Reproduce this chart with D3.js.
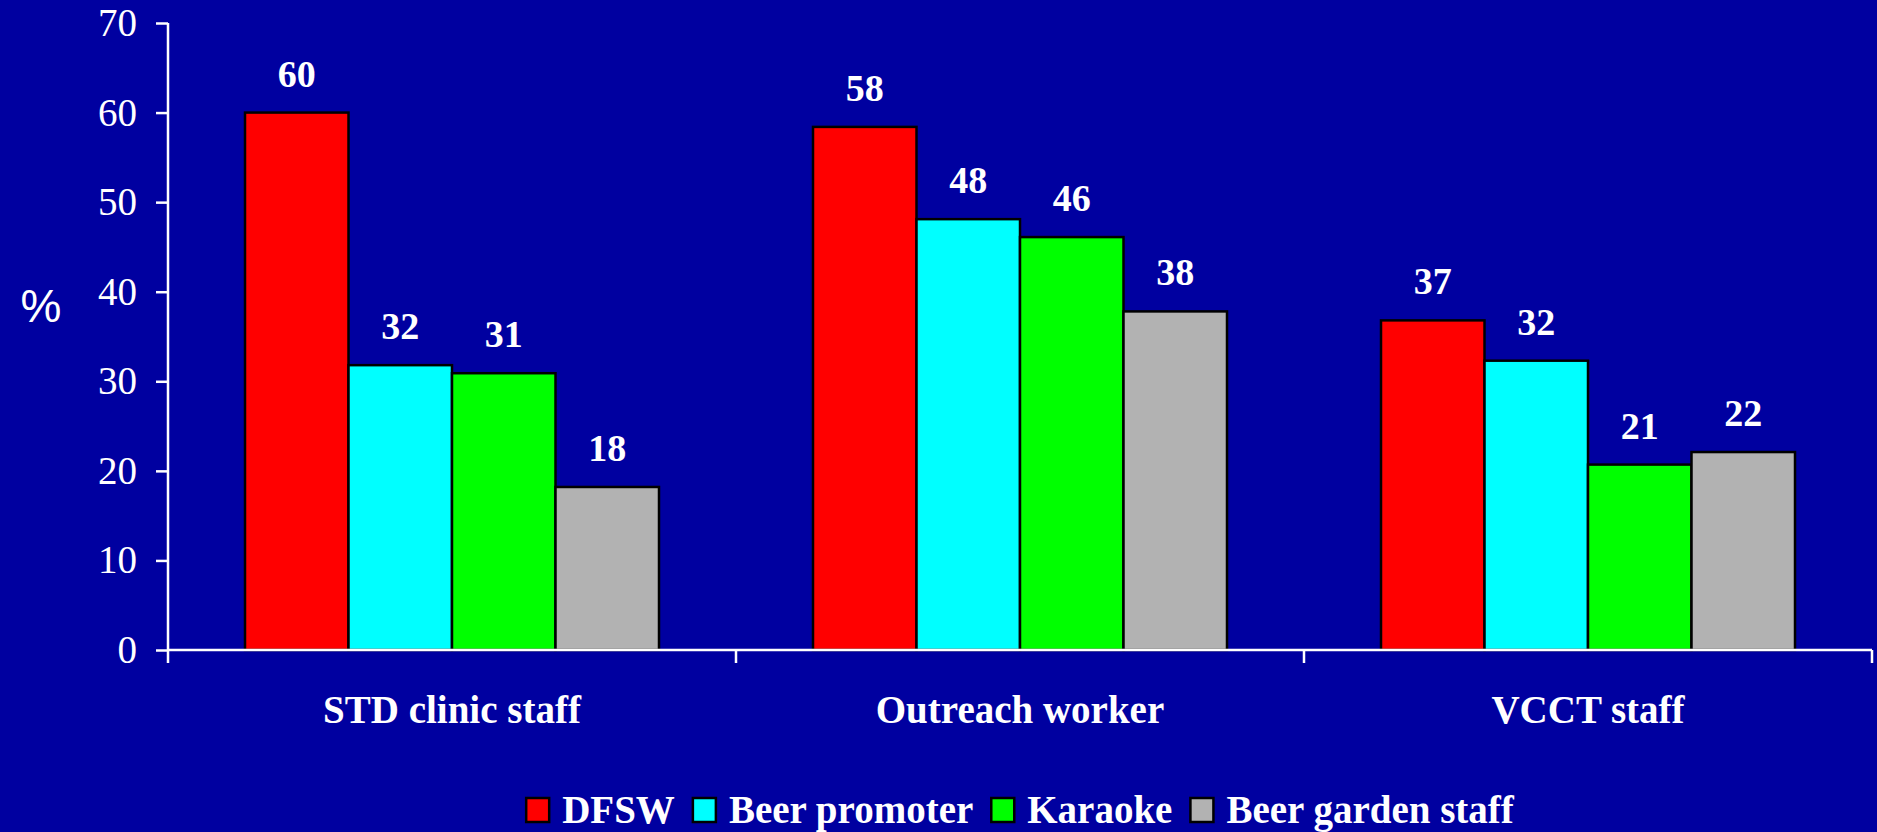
<!DOCTYPE html>
<html>
<head>
<meta charset="utf-8">
<script src="https://cdn.jsdelivr.net/npm/d3@7"></script>
<style>
  body { margin: 0; background: #0000A0; }
  svg { display: block; }
</style>
</head>
<body>
<svg id="chart" width="1877" height="832"></svg>
<script>
// data
var categories = ["STD clinic staff", "Outreach worker", "VCCT staff"];
var seriesNames = ["DFSW", "Beer promoter", "Karaoke", "Beer garden staff"];
var seriesColors = ["#FF0000", "#00FFFF", "#00FF00", "#B2B2B2"];
var dfsw = [60.0, 58.4, 36.8];
var beerPromoter = [31.8, 48.1, 32.3];
var karaoke = [30.9, 46.1, 20.7];
var beerGarden = [18.2, 37.8, 22.1];
var labelValues = [[60, 32, 31, 18], [58, 48, 46, 38], [37, 32, 21, 22]];
var yTicks = [0, 10, 20, 30, 40, 50, 60, 70];

var seriesValues = [dfsw, beerPromoter, karaoke, beerGarden];

var svg = d3.select("#chart");
var serif = "'Liberation Serif', 'Times New Roman', serif";

var x0 = d3.scaleBand().domain(categories).range([168, 1872]).padding(0);
var x1 = d3.scaleBand().domain(seriesNames).range([0, x0.bandwidth()]).paddingInner(0).paddingOuter(0.744);
var y = d3.scaleLinear().domain([0, 70]).range([650, 23]);

// bars
var groups = svg.append("g").selectAll("g")
    .data(categories).enter().append("g")
    .attr("transform", function (d) { return "translate(" + x0(d) + ",0)"; });

groups.each(function (cat, ci) {
    var g = d3.select(this);
    var rows = seriesNames.map(function (s, si) {
        return { name: s, value: seriesValues[si][ci], label: labelValues[ci][si], color: seriesColors[si] };
    });
    g.selectAll("rect").data(rows).enter().append("rect")
        .attr("x", function (d) { return x1(d.name); })
        .attr("y", function (d) { return y(d.value); })
        .attr("width", x1.bandwidth())
        .attr("height", function (d) { return y(0) - y(d.value); })
        .attr("fill", function (d) { return d.color; })
        .attr("stroke", "#000")
        .attr("stroke-width", 2.5);
    g.selectAll("text").data(rows).enter().append("text")
        .attr("x", function (d) { return x1(d.name) + x1.bandwidth() / 2; })
        .attr("y", function (d) { return y(d.value) - 26; })
        .attr("text-anchor", "middle")
        .style("font", "bold 38px " + serif)
        .style("fill", "#fff")
        .text(function (d) { return d.label; });
});

// y axis
var yAxis = svg.append("g")
    .attr("transform", "translate(168,0)")
    .call(d3.axisLeft(y).tickValues(yTicks).tickSize(12).tickPadding(19).tickFormat(d3.format("d")));
yAxis.select(".domain").attr("d", "M0," + y(70) + "V663");
yAxis.selectAll("line").attr("stroke", "#fff").attr("stroke-width", 2.5);
yAxis.select(".domain").attr("stroke", "#fff").attr("stroke-width", 2.5);
yAxis.selectAll("text").style("font", "39px " + serif).style("fill", "#fff");

// x axis
var xAxis = svg.append("g").attr("transform", "translate(0," + y(0) + ")");
xAxis.append("line")
    .attr("x1", 168).attr("x2", 1872).attr("y1", 0).attr("y2", 0)
    .attr("stroke", "#fff").attr("stroke-width", 2.5);
var sepTicks = categories.map(function (c) { return x0(c) + x0.bandwidth(); });
xAxis.selectAll(".sep").data(sepTicks).enter().append("line")
    .attr("class", "sep")
    .attr("x1", function (d) { return d; }).attr("x2", function (d) { return d; })
    .attr("y1", 0).attr("y2", 13)
    .attr("stroke", "#fff").attr("stroke-width", 2.5);
xAxis.selectAll(".cat").data(categories).enter().append("text")
    .attr("class", "cat")
    .attr("x", function (d) { return x0(d) + x0.bandwidth() / 2; })
    .attr("y", 73)
    .attr("text-anchor", "middle")
    .style("font", "bold 39px " + serif)
    .style("fill", "#fff")
    .text(function (d) { return d; });

// y title
svg.append("text")
    .attr("x", 41).attr("y", 322)
    .attr("text-anchor", "middle")
    .style("font", "46px 'Liberation Sans', Arial, sans-serif")
    .style("fill", "#fff")
    .text("%");

// legend
var legend = svg.append("g");
var lx = 0;
seriesNames.forEach(function (s, i) {
    var item = legend.append("g").attr("transform", "translate(" + lx + ",0)");
    item.append("rect")
        .attr("x", 0).attr("y", 798).attr("width", 23).attr("height", 24)
        .attr("fill", seriesColors[i]).attr("stroke", "#000").attr("stroke-width", 2.5);
    var t = item.append("text")
        .attr("x", 36).attr("y", 823)
        .style("font", "bold 39px " + serif)
        .style("fill", "#fff")
        .text(s);
    lx += 36 + t.node().getComputedTextLength() + 18;
});
var legendW = lx - 18;
legend.attr("transform", "translate(" + (1020 - legendW / 2) + ",0)");
</script>
</body>
</html>
